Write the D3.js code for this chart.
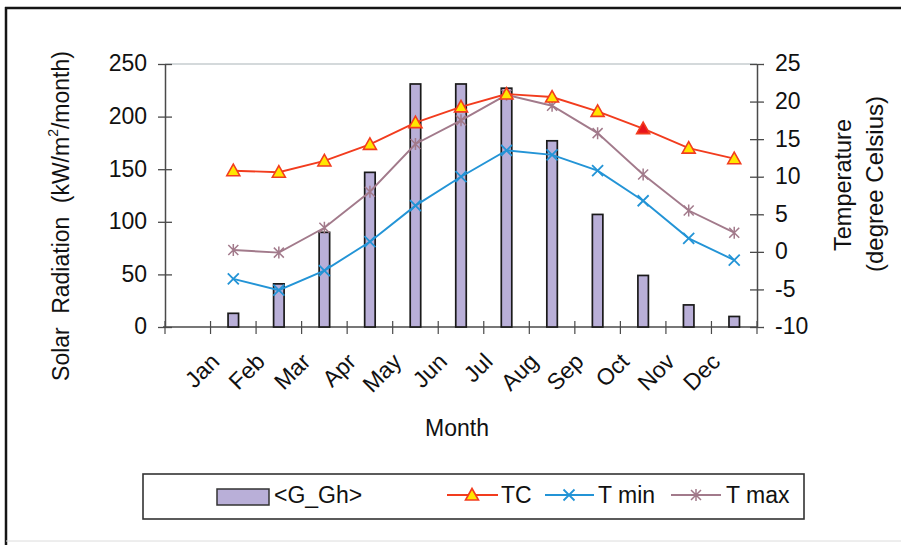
<!DOCTYPE html>
<html>
<head>
<meta charset="utf-8">
<script src="https://cdn.jsdelivr.net/npm/d3@7"></script>
<style>
  html, body { margin: 0; padding: 0; background: #ffffff; }
  svg { display: block; }
  text { font-family: "Liberation Sans", Arial, sans-serif; fill: #111; }
</style>
</head>
<body>
<svg id="chart" width="901" height="545"></svg>
<script>
// ---- data ----
const months = ["Jan","Feb","Mar","Apr","May","Jun","Jul","Aug","Sep","Oct","Nov","Dec"];
const gGh  = [13, 41, 90, 147, 231, 231, 227, 177, 107, 49, 21, 10];        // solar radiation, left axis
const tc   = [10.8, 10.6, 12.1, 14.3, 17.2, 19.3, 21.0, 20.6, 18.7, 16.4, 13.8, 12.4];
const tMin = [-3.6, -5.1, -2.5, 1.35, 6.15, 10.0, 13.5, 12.9, 10.8, 6.8, 1.8, -1.1];
const tMax = [0.25, -0.1, 3.2, 8.0, 14.35, 17.5, 20.9, 19.45, 15.8, 10.3, 5.5, 2.55];
const leftTicks  = [0, 50, 100, 150, 200, 250];
const rightTicks = [-10, -5, 0, 5, 10, 15, 20, 25];
const highlightTC = 9; // the one TC marker drawn filled red

// ---- layout ----
const svg = d3.select("#chart");
const L = 165, R = 757, T = 64, B = 327;
const nSlots = 13; // the category axis has 13 slots; data sit one slot right of their labels
const x = d3.scaleBand().domain(d3.range(nSlots)).range([L, R]).padding(0);
const bw = x.bandwidth();
const yL = d3.scaleLinear().domain([0, 250]).range([B, T]);
const yR = d3.scaleLinear().domain([-10, 25]).range([B, T]);
const cx = i => x(i + 1) + bw / 2;   // data position
const axisCol = "#4a4a4a";
const FS = 23;

// outer frame
svg.append("line").attr("x1", 6).attr("x2", 6).attr("y1", 7).attr("y2", 545).attr("stroke", "#151515").attr("stroke-width", 2.5);
svg.append("line").attr("x1", 5).attr("x2", 901).attr("y1", 8).attr("y2", 8).attr("stroke", "#151515").attr("stroke-width", 2.5);
svg.append("line").attr("x1", 6).attr("x2", 901).attr("y1", 541).attr("y2", 541).attr("stroke", "#dcdcdc").attr("stroke-width", 1);

// plot top border
svg.append("line").attr("x1", L).attr("x2", R).attr("y1", T).attr("y2", T).attr("stroke", "#a9b3b8").attr("stroke-width", 1.2);

const fmt = d => String(d);

// left axis
const gl = svg.append("g").attr("transform", `translate(${L},0)`)
  .call(d3.axisLeft(yL).tickValues(leftTicks).tickFormat(fmt).tickSizeInner(6).tickSizeOuter(0).tickPadding(12));
gl.select(".domain").attr("stroke", axisCol).attr("stroke-width", 1.5);
gl.selectAll(".tick line").attr("stroke", axisCol).attr("stroke-width", 1.3).attr("x1", 7).attr("x2", -7);
gl.selectAll(".tick text").attr("font-size", FS).attr("fill", "#111")
  .attr("font-family", "Liberation Sans, Arial, sans-serif").attr("dy", "0.3em");

// right axis
const gr = svg.append("g").attr("transform", `translate(${R},0)`)
  .call(d3.axisRight(yR).tickValues(rightTicks).tickFormat(fmt).tickSizeInner(6).tickSizeOuter(0).tickPadding(12));
gr.select(".domain").attr("stroke", axisCol).attr("stroke-width", 1.5);
gr.selectAll(".tick line").attr("stroke", axisCol).attr("stroke-width", 1.3).attr("x1", -7).attr("x2", 7);
gr.selectAll(".tick text").attr("font-size", FS).attr("fill", "#111")
  .attr("font-family", "Liberation Sans, Arial, sans-serif").attr("dy", "0.3em");

// x axis line + boundary ticks
svg.append("line").attr("x1", L - 2).attr("x2", R).attr("y1", B).attr("y2", B).attr("stroke", axisCol).attr("stroke-width", 1.5);
svg.append("g").selectAll("line").data(d3.range(nSlots + 1)).join("line")
  .attr("x1", i => i < nSlots ? x(i) : R).attr("x2", i => i < nSlots ? x(i) : R)
  .attr("y1", B - 6).attr("y2", B + 7).attr("stroke", axisCol).attr("stroke-width", 1.2);

// month labels (rotated)
svg.append("g").selectAll("text").data(months).join("text")
  .attr("transform", (d, i) => `translate(${x(i) + bw / 2 + 33},${363}) rotate(-45)`)
  .attr("text-anchor", "end").attr("font-size", 23).text(d => d);

// bars
const barW = 10.5;
svg.append("g").selectAll("rect").data(gGh).join("rect")
  .attr("x", (d, i) => cx(i) - barW / 2).attr("width", barW)
  .attr("y", d => yL(d)).attr("height", d => yL(0) - yL(d))
  .attr("fill", "#b9afd8").attr("stroke", "#1a1a1a").attr("stroke-width", 1.7);

// lines
const cTC = "#f23c1e", cMin = "#2394d6", cMax = "#a27a8b";
const lineGen = yS => d3.line().x((d, i) => cx(i)).y(d => yS(d));
svg.append("path").datum(tMax).attr("d", lineGen(yR)).attr("fill", "none").attr("stroke", cMax).attr("stroke-width", 1.9);
svg.append("path").datum(tMin).attr("d", lineGen(yR)).attr("fill", "none").attr("stroke", cMin).attr("stroke-width", 1.9);
svg.append("path").datum(tc).attr("d", lineGen(yR)).attr("fill", "none").attr("stroke", cTC).attr("stroke-width", 1.9);

// marker helpers
function triangle(g, px, py, fill) {
  g.append("path").attr("d", `M${px},${py - 6.5}L${px + 6.5},${py + 5}L${px - 6.5},${py + 5}Z`)
    .attr("fill", fill).attr("stroke", cTC).attr("stroke-width", 1.6).attr("stroke-linejoin", "miter");
}
function cross(g, px, py) {
  const s = 5.5;
  g.append("path").attr("d", `M${px - s},${py - s}L${px + s},${py + s}M${px - s},${py + s}L${px + s},${py - s}`)
    .attr("stroke", cMin).attr("stroke-width", 1.8).attr("fill", "none");
}
function star(g, px, py) {
  const s = 5;
  g.append("path").attr("d", `M${px - s},${py - s}L${px + s},${py + s}M${px - s},${py + s}L${px + s},${py - s}M${px},${py - s - 1}L${px},${py + s + 1}`)
    .attr("stroke", cMax).attr("stroke-width", 1.5).attr("fill", "none");
}
const gm = svg.append("g");
tMax.forEach((d, i) => star(gm, cx(i), yR(d)));
tMin.forEach((d, i) => cross(gm, cx(i), yR(d)));
tc.forEach((d, i) => triangle(gm, cx(i), yR(d), i === highlightTC ? "#e8141c" : "#ffe600"));

// axis titles
svg.append("text").attr("transform", `translate(61,216) rotate(-90)`)
  .attr("text-anchor", "middle").attr("dominant-baseline", "central").attr("font-size", 23)
  .attr("word-spacing", 7)
  .html('Solar Radiation (kW/m<tspan baseline-shift="super" font-size="14">2</tspan>/month)');
svg.append("text").attr("transform", `translate(843,185) rotate(-90)`)
  .attr("text-anchor", "middle").attr("dominant-baseline", "central").attr("font-size", 23.5).text("Temperature");
svg.append("text").attr("transform", `translate(874,184) rotate(-90)`)
  .attr("text-anchor", "middle").attr("dominant-baseline", "central").attr("font-size", 24).text("(degree Celsius)");
svg.append("text").attr("x", 457).attr("y", 436).attr("text-anchor", "middle").attr("font-size", FS).text("Month");

// legend
const lg = svg.append("g");
lg.append("rect").attr("x", 143).attr("y", 474).attr("width", 661).attr("height", 45)
  .attr("fill", "#fff").attr("stroke", "#333").attr("stroke-width", 1.6);
lg.append("rect").attr("x", 217).attr("y", 489).attr("width", 52).attr("height", 16)
  .attr("fill", "#b9afd8").attr("stroke", "#333").attr("stroke-width", 1.5);
lg.append("text").attr("x", 274).attr("y", 503).attr("font-size", FS).text("<G_Gh>");
const ly = 495;
lg.append("line").attr("x1", 447).attr("x2", 498).attr("y1", ly).attr("y2", ly).attr("stroke", cTC).attr("stroke-width", 1.8);
triangle(lg, 472, ly, "#ffe600");
lg.append("text").attr("x", 501).attr("y", 503).attr("font-size", FS).text("TC");
lg.append("line").attr("x1", 545).attr("x2", 594).attr("y1", ly).attr("y2", ly).attr("stroke", cMin).attr("stroke-width", 1.8);
cross(lg, 569, ly);
lg.append("text").attr("x", 598).attr("y", 503).attr("font-size", FS).text("T min");
lg.append("line").attr("x1", 671).attr("x2", 721).attr("y1", ly).attr("y2", ly).attr("stroke", cMax).attr("stroke-width", 1.8);
star(lg, 696, ly);
lg.append("text").attr("x", 726).attr("y", 503).attr("font-size", FS).text("T max");
</script>
</body>
</html>
